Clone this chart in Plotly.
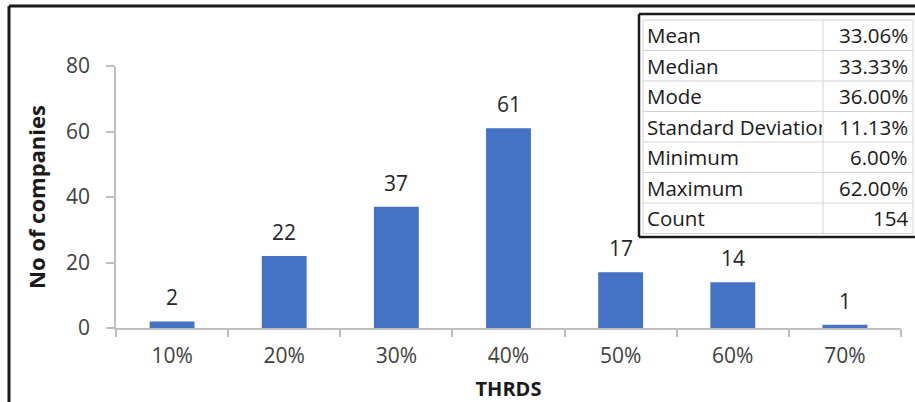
import plotly.graph_objects as go

# Distribution of THRDS across companies
categories = ["10%", "20%", "30%", "40%", "50%", "60%", "70%"]
companies = [2, 22, 37, 61, 17, 14, 1]

# Descriptive statistics table
stat_names = ["Mean", "Median", "Mode", "Standard Deviation", "Minimum", "Maximum", "Count"]
stat_values = ["33.06%", "33.33%", "36.00%", "11.13%", "6.00%", "62.00%", "154"]

W, H = 915, 402
L, R, T, B = 116, 14, 66, 74
PW, PH = W - L - R, H - T - B

FONT = "Open Sans"
BAR = "#4472C4"
TXT = "#404040"
AX = "#BFBFBF"


def px_x(x):
    return (x - L) / PW


def px_y(y):
    return (H - B - y) / PH


fig = go.Figure(
    go.Bar(
        x=categories,
        y=companies,
        marker=dict(color=BAR, line=dict(width=0)),
        hoverinfo="skip",
    )
)

annotations = []
for c, v in zip(categories, companies):
    annotations.append(dict(
        x=c, y=v, xref="x", yref="y", text=str(v), showarrow=False,
        yanchor="bottom", yshift=8, font=dict(family=FONT, size=21, color="#262626"),
    ))

shapes = []
# outer frame (left and top edges)
fx, fy = px_x(9), px_y(6)
shapes.append(dict(type="line", xref="paper", yref="paper", x0=fx, x1=fx, y0=px_y(H + 5), y1=fy,
                   line=dict(color="#1a1a1a", width=3)))
shapes.append(dict(type="line", xref="paper", yref="paper", x0=fx, x1=px_x(W + 5), y0=fy, y1=fy,
                   line=dict(color="#1a1a1a", width=3)))

# statistics table
tl, tsep, tr = 643, 823, 913
row_top = 20
row_h = 30.5
n = len(stat_names)
tb = row_top + row_h * n
shapes.append(dict(type="rect", xref="paper", yref="paper", x0=px_x(638), x1=px_x(W + 10),
                   y0=px_y(237), y1=px_y(14), fillcolor="white", line=dict(width=0), layer="above"))
for i in range(n + 1):
    yy = px_y(row_top + row_h * i)
    shapes.append(dict(type="line", xref="paper", yref="paper", x0=px_x(tl), x1=px_x(tr),
                       y0=yy, y1=yy, line=dict(color="#D4D4D4", width=1), layer="above"))
for xx in (tl, tsep, tr):
    shapes.append(dict(type="line", xref="paper", yref="paper", x0=px_x(xx), x1=px_x(xx),
                       y0=px_y(row_top), y1=px_y(tb), line=dict(color="#D4D4D4", width=1), layer="above"))
# dark box around the table
shapes.append(dict(type="line", xref="paper", yref="paper", x0=px_x(639), x1=px_x(639),
                   y0=px_y(237), y1=px_y(14), line=dict(color="#1a1a1a", width=2.5), layer="above"))
shapes.append(dict(type="line", xref="paper", yref="paper", x0=px_x(639), x1=px_x(W + 5),
                   y0=px_y(14), y1=px_y(14), line=dict(color="#1a1a1a", width=2.5), layer="above"))
shapes.append(dict(type="line", xref="paper", yref="paper", x0=px_x(639), x1=px_x(W + 5),
                   y0=px_y(237), y1=px_y(237), line=dict(color="#1a1a1a", width=2.5), layer="above"))

for i, (name, val) in enumerate(zip(stat_names, stat_values)):
    yc = px_y(row_top + row_h * (i + 0.5))
    annotations.append(dict(
        x=px_x(646), y=yc, xref="paper", yref="paper", text=name, showarrow=False,
        xanchor="left", yanchor="middle", align="left", width=tsep - 648, borderpad=0,
        font=dict(family=FONT, size=20.5, color="#1a1a1a"),
    ))
    annotations.append(dict(
        x=px_x(910), y=yc, xref="paper", yref="paper", text=val, showarrow=False,
        xanchor="right", yanchor="middle", font=dict(family=FONT, size=20.5, color="#1a1a1a"),
    ))

fig.update_layout(
    width=W, height=H,
    margin=dict(l=L, r=R, t=T, b=B, autoexpand=False),
    paper_bgcolor="white", plot_bgcolor="white",
    bargap=0.6,
    showlegend=False,
    font=dict(family=FONT, size=21, color=TXT),
    xaxis=dict(
        range=[-0.5, 6.5], showline=True, linecolor=AX, linewidth=1.5,
        ticks="outside", tickson="boundaries", ticklen=7, tickcolor=AX, tickwidth=1.5,
        showgrid=False, tickfont=dict(family=FONT, size=21, color=TXT),
        ticklabelstandoff=8, automargin=False,
        title=dict(text="<b>THRDS</b>", font=dict(family=FONT, size=20, color="#1a1a1a"), standoff=14),
    ),
    yaxis=dict(
        range=[0, 80], dtick=20, showline=True, linecolor=AX, linewidth=1.5,
        ticks="outside", ticklen=8, tickcolor=AX, tickwidth=1.5,
        showgrid=False, zeroline=False, tickfont=dict(family=FONT, size=21, color=TXT),
        ticklabelstandoff=12, automargin=False,
        title=dict(text="<b>No of companies</b>", font=dict(family=FONT, size=22, color="#1a1a1a"), standoff=14),
    ),
    shapes=shapes,
    annotations=annotations,
)

fig.write_html("out.html")
